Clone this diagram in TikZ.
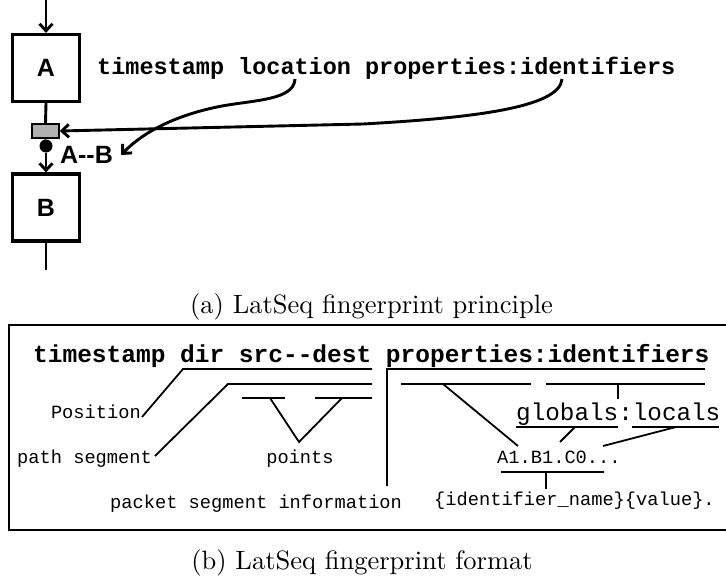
\documentclass[tikz,border=0pt]{standalone}
\usepackage{fontspec}
\usepackage{graphicx}
\newfontfamily\lmono{Liberation Mono}
\newfontfamily\lsans{Liberation Sans}
\usetikzlibrary{arrows.meta}
\newcommand\captxt[1]{\scalebox{2.65}{\fontsize{10}{12}\selectfont #1}}
\tikzset{
  blk/.style={draw,line width=3.2pt,minimum width=67pt,minimum height=67pt,inner sep=0pt,font=\lsans\bfseries\fontsize{25}{30}\selectfont},
  conn/.style={line width=2.9pt},
  arr/.style={conn,-{Straight Barb[length=7pt,width=13pt]}},
  brk/.style={line width=1.8pt},
  bigtt/.style={inner sep=0pt,font=\lmono\bfseries\fontsize{24.5}{28}\selectfont},
  toptt/.style={inner sep=0pt,font=\lmono\bfseries\fontsize{23.5}{28}\selectfont},
  smalltt/.style={inner sep=0pt,font=\lmono\fontsize{18.7}{22}\selectfont},
  midtt/.style={inner sep=0pt,font=\lmono\fontsize{24.3}{28}\selectfont},
  capt/.style={inner sep=0pt,anchor=base},
}
\begin{document}
\begin{tikzpicture}[x=1pt,y=-1pt]
\useasboundingbox (0,0) rectangle (726,581);
% ---------- (a) ----------
\node[blk] (A) at (46,68) {A};
\node[blk] (B) at (46,207.5) {B};
\node[draw,fill=gray!60,line width=1.5pt,minimum width=27pt,minimum height=14pt,inner sep=0pt] (g) at (45.5,131) {};
\node[circle,fill=black,minimum size=13pt,inner sep=0pt] (dot) at (46,146) {};
\node[inner ysep=0pt,inner xsep=8pt,font=\lsans\bfseries\fontsize{25}{30}\selectfont] (AB) at (86.5,155) {A--B};
\coordinate (top) at (46,0);
\coordinate (bot) at (46,270);
\draw[arr] (top) -- (A.north);
\draw[conn] (A.south) -- (g.north);
\draw[conn] (g.south) -- (dot);
\draw[arr] (dot) -- (B.north);
\draw[conn] (B.south) -- (bot);
\node[toptt,anchor=base west] (tl) at (97,74) {timestamp location properties:identifiers};
\coordinate (c1) at (295,79);
\coordinate (c2) at (562,79);
\draw[arr] (c1) .. controls (294,100) and (255,100) .. (222,106)
  .. controls (180,114) and (145,130) .. (AB.east);
\draw[arr] (c2) .. controls (560,108) and (470,118) .. (363,124) -- (g.east);
\node[capt] (capa) at (371.5,313) {\captxt{(a) LatSeq fingerprint principle}};
% ---------- (b) ----------
\draw[line width=1.6pt] (9,325) rectangle (740,530);
\node[bigtt,anchor=base west] (t2) at (33,362) {timestamp dir src--dest properties:identifiers};
\node[smalltt,anchor=base east] (pos) at (141,418) {Position};
\node[smalltt,anchor=base west] (ps) at (17,463) {path segment};
\node[smalltt,anchor=base] (pts) at (300,463) {points};
\node[smalltt,anchor=base west] (psi) at (110,508) {packet segment information};
\node[midtt,anchor=base west] (gl) at (516,420) {globals:locals};
\node[smalltt,anchor=base west] (abc) at (497,463) {A1.B1.C0...};
\node[smalltt,anchor=base west] (idv) at (434,505) {\{identifier\_name\}\{value\}.};
% brackets
\draw[brk] (142,417) -- (183,369) -- (372,369);
\draw[brk] (155,456) -- (228,384) -- (372,384);
\draw[brk] (242,398) -- (285,398);
\draw[brk] (315,398) -- (372,398);
\draw[brk] (270,398) -- (299,442) -- (342,398);
\draw[brk] (705,369) -- (387,369) -- (387,486);
\draw[brk] (401,384) -- (531,384);
\draw[brk] (546,384) -- (705,384);
\draw[brk] (618,384) -- (618,399);
\draw[brk] (516,427) -- (618,427);
\draw[brk] (632,427) -- (719,427);
\draw[brk] (443,384) -- (518,446);
\draw[brk] (575,427) -- (560,442);
\draw[brk] (676,427) -- (603,446);
\draw[brk] (501,472) -- (604,472);
\draw[brk] (546,472) -- (546,489);
\node[capt] (captb) at (362,569) {\captxt{(b) LatSeq fingerprint format}};
\end{tikzpicture}
\end{document}
